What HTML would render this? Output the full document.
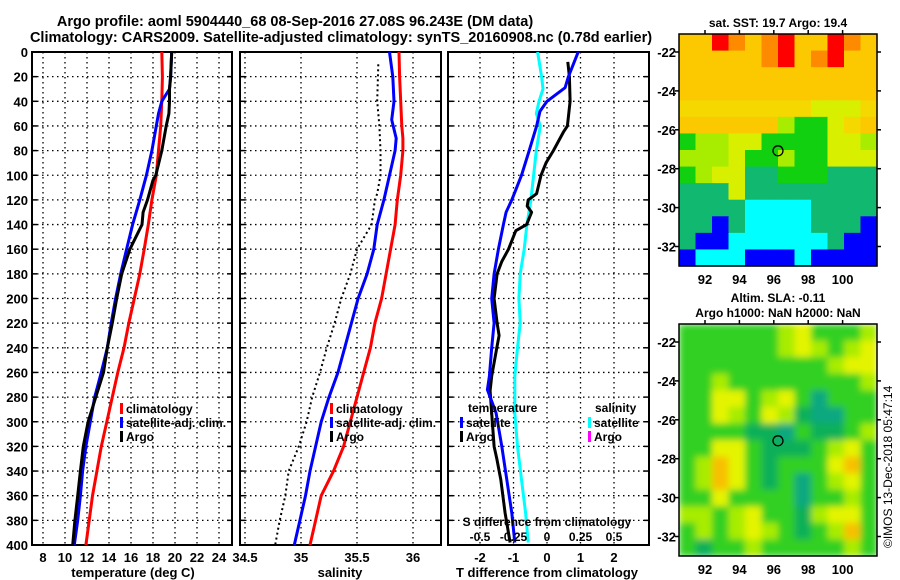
<!DOCTYPE html>
<html><head><meta charset="utf-8"><title>Argo profile</title>
<style>
html,body{margin:0;padding:0;background:#fff;}
svg{display:block;font-family:"Liberation Sans",sans-serif;font-weight:bold;}
</style></head>
<body>
<svg id="chart" width="900" height="580" viewBox="0 0 900 580" xmlns="http://www.w3.org/2000/svg">
<defs>
<clipPath id="cp1"><rect x="32" y="52" width="200" height="493"/></clipPath>
<clipPath id="cp2"><rect x="240" y="52" width="201" height="493"/></clipPath>
<clipPath id="cp3"><rect x="448" y="52" width="201" height="493"/></clipPath>
<clipPath id="cpm2"><rect x="679" y="324" width="198" height="232"/></clipPath>
<filter id="blur" x="-10%" y="-10%" width="120%" height="120%"><feGaussianBlur stdDeviation="3.5"/></filter>
</defs>
<g font-size="14.5" text-anchor="middle">
<text x="295" y="26">Argo profile: aoml 5904440_68 08-Sep-2016 27.08S 96.243E (DM data)</text>
<text x="341" y="42">Climatology: CARS2009. Satellite-adjusted climatology: synTS_20160908.nc (0.78d earlier)</text>
</g>
<g id="g1"></g>
<g id="g2"></g>
<g id="g3"></g>
<g id="m1"></g>
<g id="m2"></g>
<text transform="translate(892,548) rotate(-90)" font-size="12" font-weight="normal">©IMOS 13-Dec-2018 05:47:14</text>
</svg>
<script>
const depths = [0,20,40,60,80,100,120,140,160,180,200,220,240,260,280,300,320,340,360,380,400];
const tempClim = [18.8,18.85,18.8,18.7,18.5,18.3,17.9,17.57,17.2,16.8,16.3,15.8,15.36,14.8,14.3,13.8,13.3,12.9,12.5,12.2,11.9];
const tempSatDepth = [0,20,30,40,50,60,80,100,120,140,160,180,200,220,240,260,280,300,320,340,360,380,400];
const tempSat = [19.7,19.6,19.5,18.8,18.5,18.3,17.9,17.4,16.8,16.15,15.6,15.06,14.6,14.2,13.85,13.3,12.7,12.3,11.9,11.6,11.4,11.15,10.85];
const tempArgoDepth = [0,20,30,40,50,60,80,100,104,120,130,140,160,180,200,220,240,260,280,300,320,340,360,380,400];
const tempArgo = [19.7,19.6,19.5,19.5,19.45,19.2,18.8,18.25,18.0,17.5,17.1,17.0,15.9,15.15,14.7,14.3,13.85,13.5,12.8,12.1,11.66,11.4,11.15,10.9,10.7];
const salDepth = [0,20,40,60,70,80,100,120,140,160,180,200,220,240,260,280,300,320,340,360,380,400];
const salClim = [35.875,35.88,35.89,35.9,35.91,35.91,35.89,35.86,35.84,35.8,35.76,35.72,35.66,35.62,35.56,35.5,35.44,35.38,35.29,35.18,35.13,35.08];
const salSatDepth = [0,20,40,55,70,80,100,120,140,160,180,200,220,240,260,280,300,320,340,360,380,400];
const salSat = [35.79,35.82,35.83,35.81,35.85,35.84,35.79,35.74,35.68,35.65,35.59,35.51,35.45,35.39,35.33,35.25,35.18,35.13,35.08,35.04,34.99,34.94];
const salArgoDepth = [10,40,60,80,100,115,120,140,160,180,200,220,240,260,280,300,320,340,360,380,400];
const salArgo = [35.69,35.68,35.70,35.71,35.71,35.68,35.66,35.63,35.5,35.44,35.36,35.3,35.23,35.17,35.1,35.05,34.98,34.89,34.86,34.81,34.77];
const dTSatDepth = [0,20,29,40,48,60,80,100,120,130,140,160,180,200,220,240,263,274,293,320,347,374,398];
const dTSat = [0.93,0.64,0.54,0,-0.21,-0.31,-0.53,-0.76,-1.05,-1.22,-1.3,-1.45,-1.58,-1.65,-1.58,-1.65,-1.72,-1.78,-1.52,-1.35,-1.2,-1.05,-0.96];
const dTArgoDepth = [8,20,40,60,65,80,90,100,115,120,125,130,140,145,160,170,180,200,220,230,240,263,275,293,320,330,347,374,398];
const dTArgo = [0.62,0.67,0.69,0.61,0.49,0.19,-0.03,-0.18,-0.31,-0.56,-0.59,-0.46,-0.61,-0.93,-1.15,-1.35,-1.49,-1.58,-1.49,-1.43,-1.5,-1.65,-1.7,-1.65,-1.58,-1.5,-1.38,-1.25,-1.1];
const dSSatDepth = [0,20,30,40,50,60,80,100,120,140,160,180,200,220,240,263,293,320,347,374,398];
const dSSat = [-0.07,-0.04,-0.03,-0.06,-0.08,-0.05,-0.08,-0.10,-0.12,-0.15,-0.17,-0.2,-0.21,-0.2,-0.22,-0.24,-0.24,-0.22,-0.19,-0.16,-0.14];
const depthTicks = [0,20,40,60,80,100,120,140,160,180,200,220,240,260,280,300,320,340,360,380,400];
const tempTicks = [8,10,12,14,16,18,20,22,24];
const salTicks = [34.5,35,35.5,36];
const dTTicks = [-2,-1,0,1,2];
const dSTicks = [-0.5,-0.25,0,0.25,0.5];
const latTicks = [-22,-24,-26,-28,-30,-32];
const lonTicks = [92,94,96,98,100];
const argoLon = 96.243, argoLat = -27.08;
const sstRows = [
"OORQOQROORQO","OOOOOQROQROO","OOOOOOOOOOOO","OOOOOOOOOOOO","PPPPPPPPYYYP",
"OOOOOOLGGYPO","GLLYYGGGGYYL","LLLYGGLGGYYY","GLYYTTGGGTTT","TTTYTTTTTTTT",
"TTTTCCCCTTTT","TTBTCCCCTTTB","TBBCCCCCCTBB","BCCCBBBCBBBB"];
const slaRows = [
"GGGGGGLYGGGL","GGGGGGLYLGLY","GGGGGGGGGLYY","GGLGGGGGGGGL","GGYYGLYGTGGG",
"GGYLGYLDTTGG","GGGGDDTGDDGL","GGYYGDDDGLYG","GLOYGDGGGYOG","GLOYGDGTGLYG",
"GGYGGGGTGGLG","LLGLYGGDLYYG","GLGLYLGDGLOG","GDGGLGGGGGLG"];

const NS='http://www.w3.org/2000/svg';
function mk(parent,tag,attrs){const e=document.createElementNS(NS,tag);for(const k in attrs)e.setAttribute(k,attrs[k]);parent.appendChild(e);return e;}
const top0=52, bot0=545;
const yD = d => top0 + d*(bot0-top0)/400;
const xT = t => 43 + (t-8)*11;
const xS = s => 245 + (s-34.5)*112;
const xDT = v => 547 + v*33.5;
const xDS = v => 547 + v*134;

function panel(g,x0,x1,vticks,xf,labels){
  for(const d of depthTicks){
    const l=mk(g,'line',{x1:x0,x2:x1,y1:yD(d),y2:yD(d),stroke:'#000','stroke-width':1.3,'stroke-dasharray':'1.5,3.5'});
    
    
    const t1=mk(g,'line',{x1:x0,x2:x0+5,y1:yD(d),y2:yD(d),stroke:'#000','stroke-width':1.5});
    
    
    const t2=mk(g,'line',{x1:x1-5,x2:x1,y1:yD(d),y2:yD(d),stroke:'#000','stroke-width':1.5});
    
    
  }
  for(const v of vticks){
    const l=mk(g,'line',{x1:xf(v),x2:xf(v),y1:top0,y2:bot0,stroke:'#000','stroke-width':1.3,'stroke-dasharray':'1.5,3.5'});
    
    
    if(labels){
      const t=mk(g,'text',{x:xf(v),y:562,'font-size':13,'text-anchor':'middle'});
      t.textContent=String(v);
      
      
    }
  }
  const r=mk(g,'rect',{x:x0,y:top0,width:x1-x0,height:bot0-top0,fill:'none',stroke:'#000','stroke-width':2});
  
  
}
function line(g,ds,vs,xf,color,w,clip,name,dash){
  const pts=ds.map((d,i)=>xf(vs[i]).toFixed(1)+','+yD(d).toFixed(1)).join(' ');
  const a={points:pts,fill:'none',stroke:color,'stroke-width':w,'clip-path':'url(#'+clip+')','stroke-linejoin':'round'};
  if(dash)a['stroke-dasharray']=dash;
  const p=mk(g,'polyline',a);
  
  
}
function legend(g,x,y,items){
  items.forEach((it,i)=>{
    const r=mk(g,'rect',{x:x,y:y+i*14-10,width:3,height:11,fill:it[1]});
    
    
    const t=mk(g,'text',{x:x+6,y:y+i*14,'font-size':12});
    t.textContent=it[0];
    
    
  });
}
function txt(g,x,y,s,size,anchor,name){
  const t=mk(g,'text',{x:x,y:y,'font-size':size,'text-anchor':anchor||'start'});
  t.textContent=s;
  
  
  return t;
}
const g1=document.getElementById('g1');
panel(g1,32,232,tempTicks,xT,true);
for(const d of depthTicks){ txt(g1,28,yD(d)+5,String(d),13,'end','y-tick-label'); }
line(g1,depths,tempClim,xT,'#ff0000',3,'cp1','climatology-temp-line');
line(g1,tempSatDepth,tempSat,xT,'#0000ff',3,'cp1','satellite-temp-line');
line(g1,tempArgoDepth,tempArgo,xT,'#000000',3,'cp1','argo-temp-line');
legend(g1,120,413,[['climatology','#ff0000'],['satellite-adj. clim.','#0000ff'],['Argo','#000']]);
txt(g1,133,577,'temperature (deg C)',13,'middle','x-axis-title');
const g2=document.getElementById('g2');
panel(g2,240,441,salTicks,xS,true);
line(g2,salDepth,salClim,xS,'#ff0000',3,'cp2','climatology-salinity-line');
line(g2,salSatDepth,salSat,xS,'#0000ff',3,'cp2','satellite-salinity-line');
line(g2,salArgoDepth,salArgo,xS,'#000',2,'cp2','argo-salinity-line','2,3');
legend(g2,330,413,[['climatology','#ff0000'],['satellite-adj. clim.','#0000ff'],['Argo','#000']]);
txt(g2,340,577,'salinity',13,'middle','x-axis-title');
const g3=document.getElementById('g3');
panel(g3,448,649,dTTicks,xDT,true);
line(g3,dSSatDepth,dSSat,xDS,'#00ffff',3,'cp3','satellite-salinity-diff-line');
line(g3,dTArgoDepth,dTArgo,xDT,'#000',3,'cp3','argo-temp-diff-line');
line(g3,dTSatDepth,dTSat,xDT,'#0000ff',3,'cp3','satellite-temp-diff-line');
txt(g3,468,412,'temperature',12,'start','legend-title');
legend(g3,460,427,[['satellite','#0000ff'],['Argo','#000']]);
txt(g3,595,412,'salinity',12,'start','legend-title');
legend(g3,588,427,[['satellite','#00ffff'],['Argo','#ff00ff']]);
txt(g3,547,526,'S difference from climatology',12,'middle','s-axis-title');
for(const v of dSTicks){ txt(g3,xDS(v),541,String(v),12,'middle','s-tick-label'); }
txt(g3,547,577,'T difference from climatology',13,'middle','x-axis-title');
const sstColors={R:'#ff0000',Q:'#fe8a00',O:'#fcc800',P:'#f4d800',Y:'#d8f000',L:'#a8ec00',G:'#10d010',T:'#10b870',C:'#00ffff',B:'#0000ff'};
const slaColors={G:'#30d020',D:'#10b058',L:'#a8ec00',Y:'#e4f400',O:'#f8c000',T:'#10a880'};
function map(g,y0,rows,colors,title,lat0y,smooth){
  const x0=679,w=198,h=232;
  const cg=mk(g,'g',smooth?{'clip-path':'url(#cpm2)'}:{});
  const inner=mk(cg,'g',smooth?{filter:'url(#blur)'}:{});
  const nr=rows.length,nc=rows[0].length,cw=w/nc,ch=h/nr;
  rows.forEach((row,ri)=>{[...row].forEach((c,ci)=>{
    const r=mk(inner,'rect',{x:(x0+ci*cw).toFixed(2),y:(y0+ri*ch).toFixed(2),width:(cw+0.6).toFixed(2),height:(ch+0.6).toFixed(2),fill:colors[c]});
    
    
  });});
  const fr=mk(g,'rect',{x:x0,y:y0,width:w,height:h,fill:'none',stroke:'#000','stroke-width':1.5});
  
  
  const yL=lat=>lat0y+(-22-lat)*19.45;
  const xL=lon=>705+(lon-92)*17.2;
  for(const la of latTicks){
    txt(g,676,yL(la)+5,String(la),13,'end','lat-tick-label');
    const t=mk(g,'line',{x1:x0-4,x2:x0,y1:yL(la),y2:yL(la),stroke:'#000','stroke-width':1.5});
    
    
    const t2=mk(g,'line',{x1:x0+w,x2:x0+w+4,y1:yL(la),y2:yL(la),stroke:'#000','stroke-width':1.5});
    
    
  }
  for(const lo of lonTicks){
    txt(g,xL(lo),y0+h+18,String(lo),13,'middle','lon-tick-label');
    const t=mk(g,'line',{x1:xL(lo),x2:xL(lo),y1:y0-4,y2:y0,stroke:'#000','stroke-width':1.5});
    
    
  }
  const c=mk(g,'circle',{cx:xL(argoLon),cy:yL(argoLat),r:5,fill:'none',stroke:'#000','stroke-width':1.3});
  
  
  title.forEach((s,i)=>txt(g,778,y0-22+i*15-(title.length-1)*15+15,s,12,'middle','map-title'));
}
map(document.getElementById('m1'),34,sstRows,sstColors,['sat. SST: 19.7 Argo: 19.4'],52,false);
map(document.getElementById('m2'),324,slaRows,slaColors,['Altim. SLA: -0.11','Argo h1000: NaN h2000: NaN'],342,true);
</script>
</body></html>
